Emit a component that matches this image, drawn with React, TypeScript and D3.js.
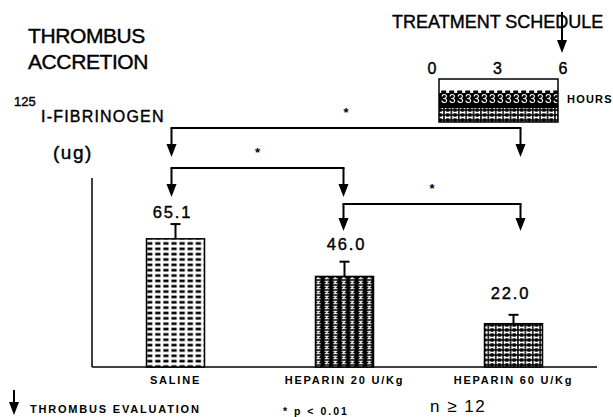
import React from 'react';
import * as d3 from 'd3';

// chart values
const categories = ['SALINE', 'HEPARIN 20 U/Kg', 'HEPARIN 60 U/Kg'];
const means = [65.1, 46.0, 22.0];
const errors = [7.5, 7.5, 4.5];
const valueLabels = ['65.1', '46.0', '22.0'];
const patterns = ['pSaline', 'pHep20', 'pHep60'];
// significance brackets (index into categories)
const compFrom = [0, 0, 1];
const compTo = [2, 1, 2];
const scheduleHours = [0, 3, 6];

const W = 613;
const H = 417;
const base = 367;
const barW = 58;
const font = '"Liberation Sans", Arial, sans-serif';

const x = d3.scalePoint<string>().domain(categories).range([175.5, 513.5]);
const y = d3.scaleLinear().domain([0, 96]).range([base, 178]);
const hx = d3.scaleLinear().domain([0, 6]).range([432, 563]);

// layout tweaks for the hand-drawn annotation
const arrowShift = [-4, -1, 7];
const labelShift = [-3, 2, -3];
const labelGap = [6, 12, 16];
const bracketY = [128, 168, 204];
const bracketTip = [157, 197, 231];

const Arrow = ({ ax, y1, y2 }: { ax: number; y1: number; y2: number }) => (
  <g>
    <line x1={ax} x2={ax} y1={y1} y2={y2 - 11} stroke="#000" strokeWidth={2} />
    <path d={`M${ax - 5},${y2 - 13}L${ax + 5},${y2 - 13}L${ax},${y2}Z`} fill="#000" />
  </g>
);

const App: React.FC = () => {
  const ax = (i: number) => (x(categories[i]) as number) + arrowShift[i];

  return (
    <svg width={W} height={H} style={{ position: 'absolute', left: 0, top: 0, background: '#fff' }}>
      <defs>
        <pattern id="pSaline" patternUnits="userSpaceOnUse" width={8.1} height={5.35}>
          <rect width={8.1} height={5.35} fill="#fff" />
          <rect x={1.3} y={1.4} width={5.3} height={2.6} fill="#000" />
        </pattern>
        <pattern id="pHep20" patternUnits="userSpaceOnUse" width={8.5} height={5}>
          <rect width={8.5} height={5} fill="#000" />
          <path d="M1.5,1.2L5,1.2L2.5,3.8L6.2,3.8" stroke="#fff" strokeWidth={1.1} fill="none" />
        </pattern>
        <pattern id="pHep60" patternUnits="userSpaceOnUse" width={7.4} height={5}>
          <rect width={7.4} height={5} fill="#000" />
          <path d="M1.4,0.7V4.3M5.9,0.7V4.3M1.4,2.5H5.9" stroke="#fff" strokeWidth={1.4} fill="none" />
        </pattern>
        <pattern id="pSchedTop" patternUnits="userSpaceOnUse" width={8} height={14}>
          <rect width={8} height={14} fill="#fff" />
          <rect x={1.2} y={6.5} width={5} height={2.5} fill="#000" />
        </pattern>
        <pattern id="pSchedMid" patternUnits="userSpaceOnUse" width={8} height={15}>
          <rect width={8} height={15} fill="#000" />
          <text x={1} y={12.5} fontSize={12} fill="#fff" fontFamily={font}>3</text>
        </pattern>
      </defs>

      {/* titles */}
      <g fontFamily={font} fill="#000" stroke="#000" strokeWidth={0.4}>
        <text x={28} y={43} fontSize={21} letterSpacing={-0.4}>THROMBUS</text>
        <text x={28} y={69} fontSize={21} letterSpacing={-0.4}>ACCRETION</text>
        <text x={14} y={106} fontSize={13}>125</text>
        <text x={41} y={122} fontSize={16} letterSpacing={1.2}>I-FIBRINOGEN</text>
        <text x={53} y={159} fontSize={19} letterSpacing={1.5}>(ug)</text>
        <text x={392} y={28} fontSize={18}>TREATMENT SCHEDULE</text>
      </g>

      {/* treatment schedule */}
      <Arrow ax={562} y1={12} y2={53} />
      {scheduleHours.map((h) => (
        <text key={h} x={hx(h)} y={74} fontSize={16} textAnchor="middle" fontFamily={font} stroke="#000" strokeWidth={0.4}>{h}</text>
      ))}
      <rect x={439} y={79} width={119} height={14} fill="url(#pSchedTop)" />
      <rect x={439} y={93} width={119} height={15} fill="url(#pSchedMid)" />
      <rect x={439} y={108} width={119} height={14} fill="url(#pHep60)" />
      <rect x={439} y={79} width={119} height={43} fill="none" stroke="#000" strokeWidth={1.5} />
      <text x={567} y={103} fontSize={11} fontWeight="bold" letterSpacing={1.2} fontFamily={font}>HOURS</text>

      {/* significance brackets */}
      {compFrom.map((f, k) => {
        const a = ax(f);
        const b = ax(compTo[k]);
        return (
          <g key={k}>
            <line x1={a - 1} x2={b + 1} y1={bracketY[k]} y2={bracketY[k]} stroke="#000" strokeWidth={2} />
            <Arrow ax={a} y1={bracketY[k]} y2={bracketTip[k]} />
            <Arrow ax={b} y1={bracketY[k]} y2={bracketTip[k]} />
            <text x={(a + b) / 2} y={bracketY[k] - 11} fontSize={13} fontWeight="bold" textAnchor="middle" fontFamily={font}>*</text>
          </g>
        );
      })}

      {/* axes */}
      <line x1={92} x2={92} y1={y(96)} y2={base} stroke="#000" strokeWidth={1.5} />
      <line x1={92} x2={597} y1={base} y2={base} stroke="#000" strokeWidth={1.5} />

      {/* bars */}
      {categories.map((c, i) => {
        const cx = x(c) as number;
        const top = y(means[i]);
        const et = y(means[i] + errors[i]);
        return (
          <g key={c}>
            <rect x={cx - barW / 2} y={top} width={barW} height={base - top} fill={`url(#${patterns[i]})`} stroke="#000" strokeWidth={1.5} />
            <line x1={cx} x2={cx} y1={top} y2={et} stroke="#000" strokeWidth={2} />
            <line x1={cx - 5} x2={cx + 5} y1={et} y2={et} stroke="#000" strokeWidth={2} />
            <text x={cx + labelShift[i]} y={et - labelGap[i]} fontSize={16.5} textAnchor="middle" letterSpacing={1.8} fontFamily={font} stroke="#000" strokeWidth={0.4}>{valueLabels[i]}</text>
            <text x={cx} y={384} fontSize={11} fontWeight="bold" textAnchor="middle" letterSpacing={1.8} fontFamily={font}>{c}</text>
          </g>
        );
      })}

      {/* footer */}
      <Arrow ax={14} y1={390} y2={415} />
      <text x={30} y={413} fontSize={11} fontWeight="bold" letterSpacing={1.8} fontFamily={font}>THROMBUS EVALUATION</text>
      <text x={283} y={415} fontSize={10.5} fontWeight="bold" letterSpacing={2} fontFamily={font}>* p &lt; 0.01</text>
      <text x={430} y={412} fontSize={17} letterSpacing={1.5} fontFamily={font}>n ≥ 12</text>
    </svg>
  );
};

export default App;
